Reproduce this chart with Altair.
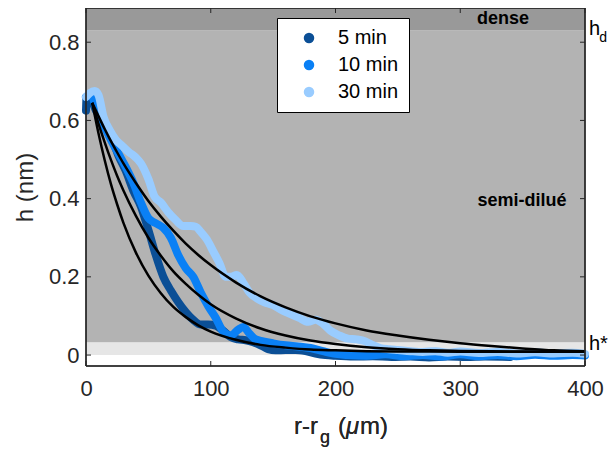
import altair as alt
import pandas as pd

# ---------------- data ----------------
series_names = ["5 min", "10 min", "30 min"]
series_colors = ["#0b4f96", "#0a80f5", "#99ccff"]

x_5 = [0, 0.5, 4, 8, 14, 20, 26, 32, 38, 44, 50, 56, 62, 68, 74, 80, 86, 92, 98, 104,
       110, 116, 122, 128, 134, 140, 146, 152, 160, 168, 176, 184, 192, 200, 215, 230,
       245, 260, 275, 290, 305, 320, 340]
h_5 = [0.625, 0.66, 0.655, 0.625, 0.60, 0.56, 0.51, 0.47, 0.42, 0.38, 0.32, 0.255, 0.20,
       0.165, 0.135, 0.11, 0.09, 0.078, 0.078, 0.075, 0.062, 0.046, 0.040, 0.038, 0.033,
       0.025, 0.015, 0.012, 0.013, 0.013, 0.010, 0.004, 0.0, -0.002, -0.004, -0.003,
       -0.005, -0.004, -0.006, -0.004, -0.005, -0.004, -0.005]

x_10 = [0, 4, 8, 14, 20, 26, 32, 38, 44, 50, 56, 62, 68, 74, 80, 86, 92, 98, 104, 110,
        116, 122, 126, 131, 136, 142, 150, 160, 170, 180, 190, 200, 210, 225, 240, 255,
        270, 285, 300, 315, 330, 345, 360, 375, 390, 400]
h_10 = [0.66, 0.665, 0.635, 0.59, 0.55, 0.515, 0.48, 0.44, 0.39, 0.35, 0.337, 0.325,
        0.30, 0.255, 0.222, 0.20, 0.16, 0.125, 0.095, 0.06, 0.05, 0.065, 0.072, 0.055,
        0.04, 0.035, 0.03, 0.025, 0.022, 0.018, 0.01, 0.003, 0.0, -0.002, 0.002, -0.003,
        0.0, -0.004, 0.002, -0.003, 0.0, -0.003, 0.001, -0.002, 0.0, -0.001]

x_30 = [0, 3, 7, 10, 14, 19, 24, 29, 34, 40, 44, 50, 55, 60, 66, 72, 78, 84, 88, 92, 97,
        102, 107, 112, 116, 121, 126, 131, 137, 143, 150, 157, 164, 171, 178, 184, 190,
        196, 203, 210, 217, 224, 230, 236, 243, 250, 260, 270, 280, 290, 300, 315, 330,
        345, 360, 375, 390, 400]
h_30 = [0.66, 0.67, 0.675, 0.665, 0.61, 0.575, 0.55, 0.535, 0.52, 0.505, 0.49, 0.45,
        0.405, 0.39, 0.365, 0.345, 0.33, 0.33, 0.328, 0.315, 0.295, 0.265, 0.235, 0.20,
        0.20, 0.205, 0.185, 0.16, 0.145, 0.135, 0.128, 0.115, 0.105, 0.095, 0.085, 0.09,
        0.08, 0.062, 0.05, 0.042, 0.04, 0.035, 0.025, 0.018, 0.015, 0.013, 0.01, 0.008,
        0.01, 0.006, 0.009, 0.005, 0.008, 0.004, 0.007, 0.004, 0.006, 0.003]

fit_x = [5, 10, 15, 20, 25, 30, 40, 50, 60, 70, 80, 90, 100, 120, 140, 160, 180, 200,
         225, 250, 275, 300, 325, 350, 375, 400]
fit_5 = [0.645, 0.567, 0.498, 0.437, 0.385, 0.338, 0.262, 0.203, 0.158, 0.123, 0.097,
         0.076, 0.060, 0.039, 0.026, 0.019, 0.014, 0.012, 0.010, 0.009, 0.0088, 0.0087,
         0.0086, 0.0085, 0.0085, 0.0085]
fit_10 = [0.645, 0.592, 0.544, 0.499, 0.458, 0.421, 0.356, 0.300, 0.254, 0.214, 0.182,
          0.154, 0.130, 0.094, 0.068, 0.050, 0.037, 0.028, 0.020, 0.015, 0.012, 0.0105,
          0.0095, 0.009, 0.0087, 0.0085]
fit_30 = [0.645, 0.611, 0.578, 0.547, 0.518, 0.490, 0.440, 0.394, 0.354, 0.318, 0.285,
          0.256, 0.230, 0.186, 0.150, 0.122, 0.099, 0.081, 0.063, 0.050, 0.039, 0.030,
          0.023, 0.017, 0.012, 0.0095]

x_ticks = [0, 100, 200, 300, 400]
y_ticks = [0, 0.2, 0.4, 0.6, 0.8]

zone_names = ["dilue", "semi", "dense"]
zone_lo = [0.0, 0.033, 0.83]
zone_hi = [0.033, 0.83, 0.8875]
zone_colors = ["#e6e6e6", "#b3b3b3", "#999999"]

# ---------------- layout ----------------
W, H = 499, 358
FONT = "Liberation Sans"
INK = "#262626"

xs = alt.Scale(domain=[0, 400], nice=False, zero=False)
ys = alt.Scale(domain=[-0.028, 0.8875], nice=False, zero=False)

rows = []
for name, xx, hh in [("5 min", x_5, h_5), ("10 min", x_10, h_10), ("30 min", x_30, h_30)]:
    for i, (a, b) in enumerate(zip(xx, hh)):
        rows.append({"x": a, "h": b, "serie": name, "i": i})
df = pd.DataFrame(rows)

frows = []
for name, hh in [("f5", fit_5), ("f10", fit_10), ("f30", fit_30)]:
    for i, (a, b) in enumerate(zip(fit_x, hh)):
        frows.append({"x": a, "h": b, "fit": name, "i": i})
dff = pd.DataFrame(frows)

zones = pd.DataFrame({"zone": zone_names, "lo": zone_lo, "hi": zone_hi})
xt = pd.DataFrame({"t": x_ticks})
yt = pd.DataFrame({"t": y_ticks})

color_scale = alt.Scale(domain=series_names, range=series_colors)

xaxis = alt.Axis(values=x_ticks, title=None, grid=False, domain=False, ticks=False,
                 labelFlush=False, format="d",
                 labelFontSize=22, labelFont=FONT, labelColor=INK, labelPadding=12)
yaxis = alt.Axis(values=y_ticks, title="h (nm)", grid=False, domain=False, ticks=False,
                 labelFlush=False, format="~r",
                 labelFontSize=22, labelFont=FONT, labelColor=INK, labelPadding=7,
                 titleFontSize=24, titleFont=FONT, titleFontWeight="normal",
                 titleColor=INK, titlePadding=11)

bands = alt.Chart(zones).mark_rect().encode(
    x=alt.value(0), x2=alt.value(W),
    y=alt.Y("lo:Q", scale=ys, axis=yaxis), y2="hi:Q",
    fill=alt.Fill("zone:N", scale=alt.Scale(domain=zone_names, range=zone_colors), legend=None),
)

lines = alt.Chart(df).mark_line(strokeWidth=8, strokeCap="round", strokeJoin="round",
                                interpolate="monotone").encode(
    x=alt.X("x:Q", scale=xs, axis=xaxis),
    y=alt.Y("h:Q", scale=ys),
    color=alt.Color("serie:N", scale=color_scale, legend=None),
    order=alt.Order("i:Q"),
    detail="serie:N",
)

legend_pts = alt.Chart(df).mark_point(filled=True, opacity=0).encode(
    x=alt.X("x:Q", scale=xs),
    y=alt.Y("h:Q", scale=ys),
    color=alt.Color("serie:N", scale=color_scale, sort=series_names,
                    legend=alt.Legend(orient="none", legendX=191, legendY=10, title=None,
                                      fillColor="white", strokeColor="black", padding=10,
                                      symbolType="circle", symbolSize=110, symbolOpacity=1,
                                      symbolStrokeWidth=0, symbolOffset=12, labelOffset=19,
                                      labelFontSize=20, labelFont=FONT, labelColor="black",
                                      rowPadding=7)),
)

fits = alt.Chart(dff).mark_line(strokeWidth=2.5, color="black", interpolate="monotone").encode(
    x=alt.X("x:Q", scale=xs),
    y=alt.Y("h:Q", scale=ys),
    detail="fit:N",
    order=alt.Order("i:Q"),
)

tick_b = alt.Chart(xt).mark_rule(color=INK).encode(x=alt.X("t:Q", scale=xs), y=alt.value(H), y2=alt.value(H - 5))
tick_t = alt.Chart(xt).mark_rule(color=INK).encode(x=alt.X("t:Q", scale=xs), y=alt.value(0), y2=alt.value(5))
tick_l = alt.Chart(yt).mark_rule(color=INK).encode(y=alt.Y("t:Q", scale=ys), x=alt.value(0), x2=alt.value(5))
tick_r = alt.Chart(yt).mark_rule(color=INK).encode(y=alt.Y("t:Q", scale=ys), x=alt.value(W), x2=alt.value(W - 5))

frame = alt.Chart(zones).mark_rect(filled=False, stroke=INK, strokeWidth=1).encode(
    x=alt.value(0), x2=alt.value(W), y=alt.value(0), y2=alt.value(H))

ann = pd.DataFrame({
    "x": [334.3, 349.5],
    "y": [0.846, 0.381],
    "txt": ["dense", "semi-dilué"],
})
ann_text = alt.Chart(ann).mark_text(font=FONT, fontSize=18, fontWeight="bold", color="black",
                                    align="center", baseline="alphabetic").encode(
    x=alt.X("x:Q", scale=xs), y=alt.Y("y:Q", scale=ys), text="txt:N")

side = pd.DataFrame({"x": [403.2, 403.2], "y": [0.818, 0.0128], "txt": ["h", "h*"]})
side_text = alt.Chart(side).mark_text(font=FONT, fontSize=20, color="black", align="left",
                                      baseline="alphabetic").encode(
    x=alt.X("x:Q", scale=xs), y=alt.Y("y:Q", scale=ys), text="txt:N")
side_sub = pd.DataFrame({"x": [411.4], "y": [0.800], "txt": ["d"]})
sub_text = alt.Chart(side_sub).mark_text(font=FONT, fontSize=14, color="black", align="left",
                                         baseline="alphabetic").encode(
    x=alt.X("x:Q", scale=xs), y=alt.Y("y:Q", scale=ys), text="txt:N")

# x axis title: r-r_g (μm)
TB = 426
t1 = alt.Chart(ann).mark_text(font=FONT, fontSize=24, color=INK, align="right", baseline="alphabetic").encode(
    x=alt.value(232), y=alt.value(TB), text=alt.value("r-r"))
t2 = alt.Chart(ann).mark_text(font=FONT, fontSize=18, color=INK, align="left", baseline="alphabetic").encode(
    x=alt.value(234), y=alt.value(TB + 9), text=alt.value("g"))
t3 = alt.Chart(ann).mark_text(font=FONT, fontSize=24, color=INK, align="left", baseline="alphabetic").encode(
    x=alt.value(252), y=alt.value(TB), text=alt.value("("))
t4 = alt.Chart(ann).mark_text(font=FONT, fontSize=24, fontStyle="italic", color=INK, align="left",
                              baseline="alphabetic").encode(
    x=alt.value(260), y=alt.value(TB), text=alt.value("μ"))
t5 = alt.Chart(ann).mark_text(font=FONT, fontSize=24, color=INK, align="left", baseline="alphabetic").encode(
    x=alt.value(274), y=alt.value(TB), text=alt.value("m)"))

chart = alt.layer(
    bands, lines, legend_pts, fits, tick_b, tick_t, tick_l, tick_r, frame,
    ann_text, side_text, sub_text, t1, t2, t3, t4, t5,
).resolve_scale(
    color="independent"
).properties(
    width=W, height=H,
    autosize=alt.AutoSizeParams(type="none"),
    padding={"left": 78, "top": 0, "right": 23, "bottom": 82},
).configure_view(stroke=None)

chart.save("out.html", embed_options={"renderer": "svg", "actions": False})
